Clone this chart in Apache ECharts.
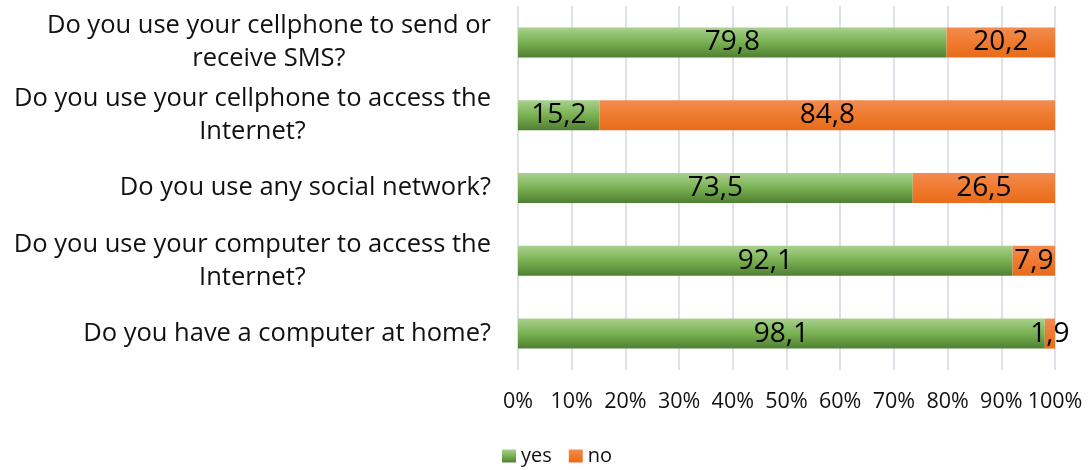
<!DOCTYPE html>
<html>
<head>
<meta charset="utf-8">
<script src="https://cdn.jsdelivr.net/npm/echarts@6/dist/echarts.min.js"></script>
<style>
  html, body { margin: 0; padding: 0; background: #fff; }
  #chart { width: 1088px; height: 470px; }
</style>
</head>
<body>
<div id="chart"></div>
<script>
// Survey questions, listed top to bottom
const questions = [
  'Do you use your cellphone to send or\nreceive SMS?',
  'Do you use your cellphone to access the\nInternet?',
  'Do you use any social network?',
  'Do you use your computer to access the\nInternet?',
  'Do you have a computer at home?'
];
// Share of answers (%)
const yesValues = [79.8, 15.2, 73.5, 92.1, 98.1];
const noValues = [20.2, 84.8, 26.5, 7.9, 1.9];
const seriesNames = ['yes', 'no'];

const FONT = '"Open Sans", Lato, sans-serif';

const greenFill = new echarts.graphic.LinearGradient(0, 0, 0, 1, [
  { offset: 0, color: '#a9d18e' },
  { offset: 0.5, color: '#78b152' },
  { offset: 1, color: '#507f32' }
]);
const orangeFill = new echarts.graphic.LinearGradient(0, 0, 0, 1, [
  { offset: 0, color: '#f28c50' },
  { offset: 0.5, color: '#f07a2f' },
  { offset: 1, color: '#e76c1b' }
]);

const fmtComma = v => String(v).replace('.', ',');

const valueLabel = {
  show: true,
  position: 'inside',
  formatter: p => fmtComma(p.value),
  fontFamily: FONT,
  fontSize: 28,
  color: '#000'
};

const chart = echarts.init(document.getElementById('chart'), null, { renderer: 'canvas' });
chart.setOption({
  animation: false,
  backgroundColor: '#ffffff',
  grid: { left: 518, right: 33, top: 6, bottom: 100, containLabel: false },
  legend: {
    bottom: 4,
    left: 502,
    padding: 0,
    itemWidth: 14,
    itemHeight: 13,
    itemGap: 17,
    icon: 'rect',
    textStyle: { fontFamily: FONT, fontSize: 20, color: '#111' },
    data: seriesNames
  },
  xAxis: {
    type: 'value',
    min: 0,
    max: 100,
    interval: 10,
    axisLine: { show: false },
    axisTick: { show: false },
    axisLabel: {
      formatter: '{value}%',
      fontFamily: FONT,
      fontSize: 21.5,
      color: '#111',
      margin: 21
    },
    splitLine: { lineStyle: { color: '#dde1e8', width: 2 } }
  },
  yAxis: {
    type: 'category',
    inverse: true,
    data: questions,
    axisLine: { show: false },
    axisTick: { show: false },
    axisLabel: {
      margin: 27,
      fontFamily: FONT,
      fontSize: 25.5,
      color: '#111',
      lineHeight: 33,
      formatter: v => v.split('\n').map(s => '{c|' + s + '}').join('\n'),
      rich: { c: { align: 'center', fontFamily: FONT, fontSize: 25.5, lineHeight: 33, color: '#111' } }
    }
  },
  series: [
    {
      name: seriesNames[0],
      type: 'bar',
      stack: 'total',
      data: yesValues,
      barWidth: 30,
      itemStyle: { color: greenFill },
      label: valueLabel
    },
    {
      name: seriesNames[1],
      type: 'bar',
      stack: 'total',
      data: noValues,
      barWidth: 30,
      itemStyle: { color: orangeFill },
      label: valueLabel
    }
  ]
});
</script>
</body>
</html>
